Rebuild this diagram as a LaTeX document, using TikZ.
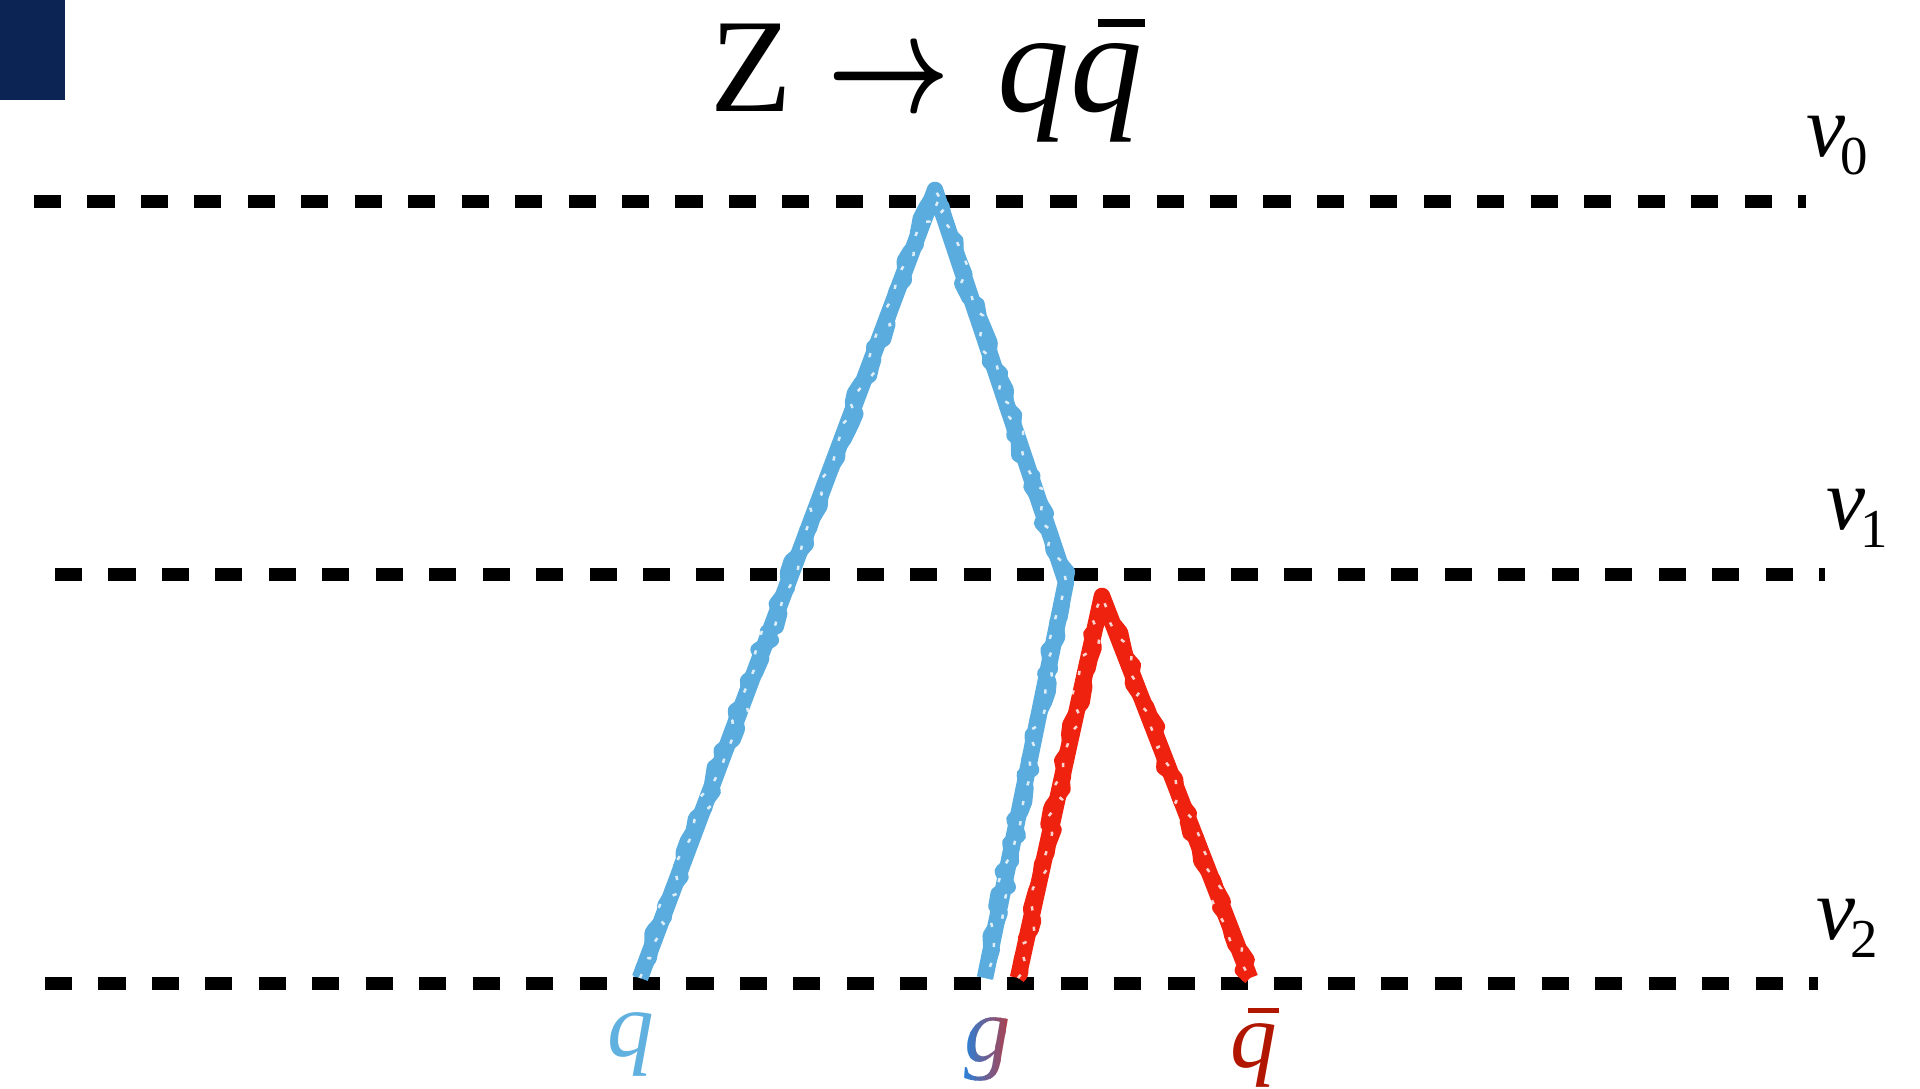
\documentclass[tikz,border=0pt]{standalone}
\usepackage{fontspec}
\setmainfont{Liberation Serif}
\usetikzlibrary{decorations.pathmorphing}
\definecolor{navy}{RGB}{12,36,84}
\definecolor{chalkblue}{RGB}{90,172,222}
\definecolor{chalkred}{RGB}{238,34,14}
\definecolor{qcol}{RGB}{96,176,224}
\definecolor{qbcol}{RGB}{176,22,0}
\definecolor{gblue}{RGB}{36,132,222}
\definecolor{gred}{RGB}{200,50,50}
\newcommand\qbarsym{\textit{q}\llap{\rule[0.59em]{0.33em}{0.055em}\kern-0.02em}}
\newcommand\vlab[1]{\textit{v}\kern-0.06em\raisebox{-5.1pt}{\fontsize{15.6}{16}\selectfont #1}}
\pgfmathsetseed{7}
\tikzset{
  level/.style={line width=0.13cm, dash pattern=on 7.7pt off 7.5pt},
  chalk/.style={line width=0.165cm, line join=round},
  rough/.style={line width=0.14cm, line join=round, decorate,
     decoration={random steps, segment length=3pt, amplitude=1.5pt}},
  speck/.style={white, opacity=0.8, line width=0.025cm, dash pattern=on 1.2pt off 4.6pt, decorate,
     decoration={random steps, segment length=4pt, amplitude=2.2pt}},
  vtxt/.style={anchor=base west, inner sep=0pt, font=\fontsize{25}{30}\selectfont},
  ptxt/.style={anchor=base, inner sep=0pt, font=\fontsize{26.5}{30}\selectfont},
}
\begin{document}
\begin{tikzpicture}[x=0.01cm,y=-0.01cm]
\useasboundingbox (0,0) rectangle (1920,1089);
\fill[navy] (0,0) rectangle (65,100);

\node[anchor=base west, inner sep=0pt, font=\fontsize{38}{44}\selectfont] (title) at (710,112)
  {\raisebox{0pt}[0.72em][0.22em]{Z\kern0.26em\scalebox{1.22}[1.6]{\boldmath$\rightarrow$}\kern0.36em\scalebox{1.08}{\textit{q}\qbarsym}}};

% levels
\coordinate (a0) at (34,202);  \coordinate (b0) at (1806,202);
\coordinate (a1) at (55,575);  \coordinate (b1) at (1825,575);
\coordinate (a2) at (45,984);  \coordinate (b2) at (1818,984);
\draw[level] (a0) -- (b0);
\draw[level] (a1) -- (b1);
\draw[level] (a2) -- (b2);
\node[vtxt] (v0) at (1806,157) {\vlab{0}};
\node[vtxt] (v1) at (1826,530) {\vlab{1}};
\node[vtxt] (v2) at (1816,940) {\vlab{2}};

% shower
\coordinate (top) at (935,190);
\coordinate (qend) at (640,978);
\coordinate (kink) at (1066,582);
\coordinate (gend) at (985,978);
\coordinate (rtop) at (1102,596);
\coordinate (rl) at (1018,978);
\coordinate (rr) at (1250,978);

\draw[chalk, chalkblue] (qend) -- (top) -- (kink) -- (gend);
\draw[rough, chalkblue] (qend) -- (top) -- (kink) -- (gend);
\draw[speck] (qend) -- (top) -- (kink) -- (gend);
\draw[chalk, chalkred] (rl) -- (rtop) -- (rr);
\draw[rough, chalkred] (rl) -- (rtop) -- (rr);
\draw[speck] (rl) -- (rtop) -- (rr);

% labels
\node[ptxt, text=qcol] (lq) at (631,1057) {\textit{q}};
\node[ptxt, text=qbcol] (lqb) at (1254,1068) {\qbarsym};
\foreach \i in {0,...,11}{
  \pgfmathsetmacro{\xa}{960+\i*5}
  \pgfmathsetmacro{\xb}{\xa+5.2}
  \pgfmathsetmacro{\pc}{100-\i*100/11}
  \begin{scope}
    \clip (\xa,1000) rectangle (\xb,1100);
    \node[ptxt, text=gblue!\pc!gred] (lg\i) at (988,1062) {\textit{g}};
  \end{scope}
}
\end{tikzpicture}
\end{document}
